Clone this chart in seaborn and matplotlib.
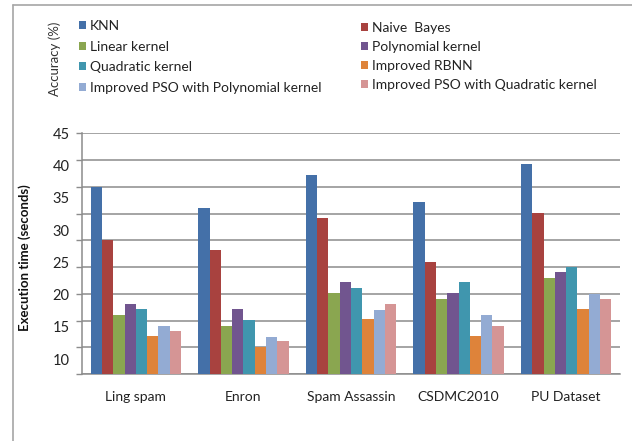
import numpy as np
import pandas as pd
import matplotlib
matplotlib.use("Agg")
import matplotlib.pyplot as plt
from matplotlib.lines import Line2D
import seaborn as sns

datasets = ["Ling spam", "Enron", "Spam Assassin", "CSDMC2010", "PU Dataset"]
methods = ["KNN", "Naive  Bayes", "Linear kernel", "Polynomial kernel",
           "Quadratic kernel", "Improved RBNN",
           "Improved PSO with Polynomial kernel",
           "Improved PSO with Quadratic kernel"]

knn = [36.7, 33.5, 38.5, 34.4, 40.2]
naive_bayes = [28.5, 26.9, 31.9, 25.1, 32.6]
linear_kernel = [16.8, 15.2, 20.2, 19.3, 22.6]
polynomial_kernel = [18.6, 17.7, 21.9, 20.2, 23.5]
quadratic_kernel = [17.8, 16.1, 21.0, 21.9, 24.3]
improved_rbnn = [13.6, 11.9, 16.2, 13.6, 17.7]
pso_polynomial = [15.2, 13.5, 17.6, 16.8, 20.1]
pso_quadratic = [14.4, 12.8, 18.5, 15.2, 19.3]

y_ticks = [10, 15, 20, 25, 30, 35, 40, 45]

colors = ["#4470A8", "#A8423F", "#8AA650", "#71558F",
          "#4096AE", "#DE833A", "#93ABD3", "#D59595"]

series = [knn, naive_bayes, linear_kernel, polynomial_kernel,
          quadratic_kernel, improved_rbnn, pso_polynomial, pso_quadratic]
df = pd.DataFrame(
    [(d, m, v) for m, vals in zip(methods, series) for d, v in zip(datasets, vals)],
    columns=["dataset", "method", "time"],
)

sns.set_style("white")
plt.rcParams["font.family"] = ["Lato", "DejaVu Sans"]
plt.rcParams["font.size"] = 9

W, H = 632, 441
fig = plt.figure(figsize=(W / 100, H / 100), dpi=100)
pos = [82 / W, 1 - 374 / H, (620 - 82) / W, (374 - 133.3) / H]

# background axes: horizontal gridlines and left tick marks
axg = fig.add_axes(pos)
axg.set_ylim(0, 45)
axg.set_yticks(np.arange(0, 50, 5))
axg.set_xticks([])
axg.yaxis.grid(True, color="#8c8c8c", lw=1.1)
axg.tick_params(axis="y", labelleft=False, length=4, width=1,
                color="#8c8c8c", direction="out", left=True)
for s in ["top", "right"]:
    axg.spines[s].set_visible(False)
for s in ["left", "bottom"]:
    axg.spines[s].set_color("#8c8c8c")
    axg.spines[s].set_linewidth(1.1)

# bars
ax = fig.add_axes(pos)
ax.set_facecolor("none")
ax.set_zorder(axg.get_zorder() + 1)
sns.barplot(data=df, x="dataset", y="time", hue="method", hue_order=methods,
            order=datasets, palette=colors, saturation=1, width=0.84,
            linewidth=0, errorbar=None, ax=ax)
ax.set_ylim(7.7, 45)
ax.set_xlim(-0.5, 4.5)
ax.set_yticks(y_ticks)
ax.set_yticklabels([str(t) for t in y_ticks], fontsize=10.5, color="#222222")
ax.tick_params(axis="y", length=0, pad=9)
ax.tick_params(axis="x", length=0, pad=12, labelsize=10, labelcolor="#222222")
ax.set_xlabel("")
ax.set_ylabel("")
for s in ax.spines.values():
    s.set_visible(False)

handles, labels = ax.get_legend_handles_labels()
ax.get_legend().remove()

leg_kw = dict(frameon=False, fontsize=10, handlelength=0.5, handleheight=0.5,
              handletextpad=0.3, borderpad=0, borderaxespad=0,
              labelcolor="#222222")
col1 = [0, 2, 4, 6]
col2 = [1, 3, 5, 7]
fig.legend([handles[i] for i in col1], [labels[i] for i in col1],
           loc="upper left", bbox_to_anchor=(79 / W, 1 - 20 / H),
           labelspacing=0.62, **leg_kw)
fig.legend([handles[i] for i in col2], [labels[i] for i in col2],
           loc="upper left", bbox_to_anchor=(361 / W, 1 - 22 / H),
           labelspacing=0.5, **leg_kw)

fig.text(55 / W, 1 - 59 / H, "Accuracy (%)", rotation=90, ha="center",
         va="center", fontsize=9.5, color="#333333")
fig.text(25 / W, 1 - 258 / H, "Execution time (seconds)", rotation=90,
         ha="center", va="center", fontsize=9.5, fontweight="bold",
         color="#111111")

# outer chart border (top and left edges)
border = "#a6a6a6"
fig.add_artist(Line2D([13 / W, 13 / W], [0, 1 - 4.7 / H],
                      transform=fig.transFigure, color=border, lw=1.2))
fig.add_artist(Line2D([13 / W, 1], [1 - 4.7 / H, 1 - 4.7 / H],
                      transform=fig.transFigure, color=border, lw=1.2))

fig.savefig("out.png", dpi=100)
